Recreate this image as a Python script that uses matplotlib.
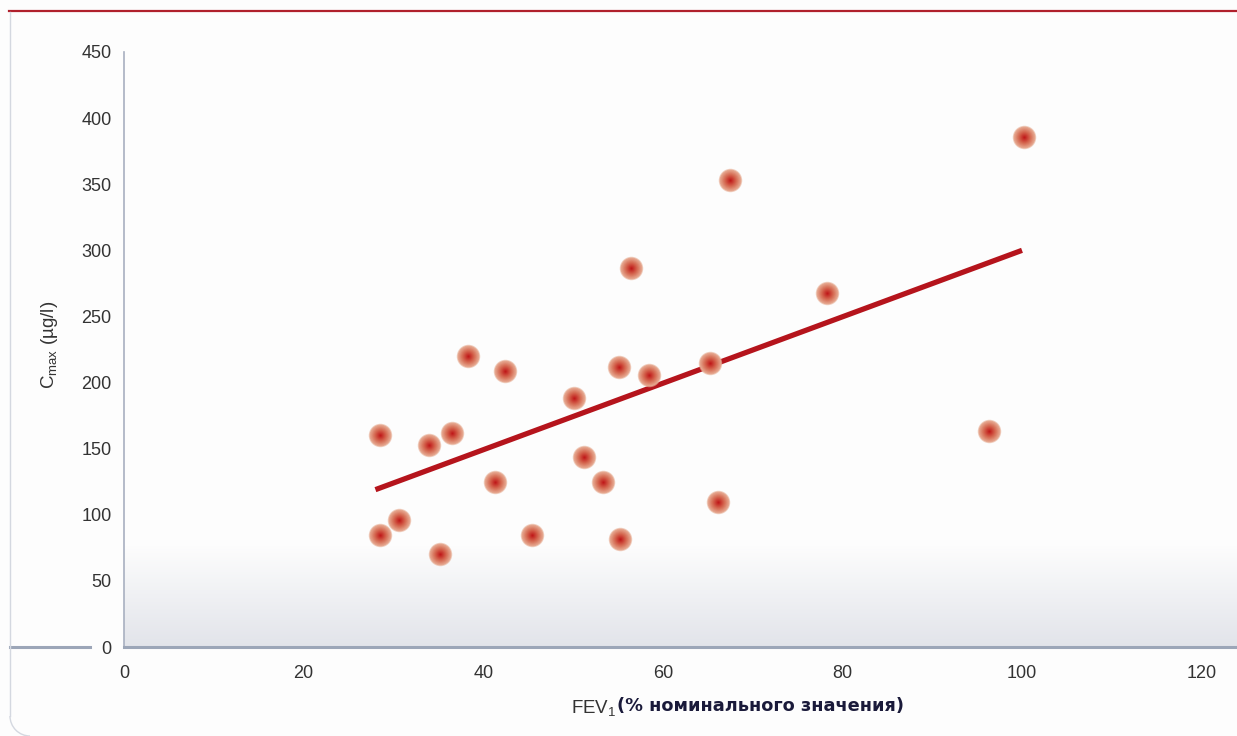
import numpy as np
import matplotlib.pyplot as plt
from matplotlib.lines import Line2D
from matplotlib.patches import Arc
from matplotlib.colors import to_rgb

plt.rcParams['font.family'] = ['Liberation Sans', 'DejaVu Sans']
plt.rcParams['mathtext.default'] = 'regular'

# data
fev1 = [28.5, 28.5, 30.6, 34.0, 35.2, 36.5, 38.3, 41.3, 42.4, 45.4, 50.1, 51.2,
        53.3, 55.1, 55.2, 56.5, 58.5, 65.3, 66.1, 67.5, 78.3, 96.3, 100.2]
cmax = [160, 85, 96, 153, 70, 162, 220, 125, 209, 85, 188, 144,
        125, 212, 82, 287, 206, 215, 110, 353, 268, 163, 386]
fit_x = [28, 100]
fit_y = [119, 300]
x_ticks = [0, 20, 40, 60, 80, 100, 120]
y_ticks = [0, 50, 100, 150, 200, 250, 300, 350, 400, 450]

W, H = 1237, 736
fig = plt.figure(figsize=(W / 100, H / 100), dpi=100)
fig.patch.set_facecolor('#fdfdfd')

ax_l, ax_b, ax_t = 124, 647, 52
ax = fig.add_axes([ax_l / W, (H - ax_b) / H, (W - ax_l) / W, (ax_b - ax_t) / H])
ax.set_facecolor('#fdfdfd')
xmax = (W - ax_l) / 8.98
ax.set_xlim(0, xmax)
ax.set_ylim(0, 450)

# grey gradient band at the bottom of the plot area
grad = np.linspace(0, 1, 100).reshape(-1, 1)
c_top = np.array(to_rgb('#fdfdfd'))
c_bot = np.array(to_rgb('#e2e4ea'))
img = c_bot + (c_top - c_bot) * grad[:, :, None]
ax.imshow(img, extent=[0, xmax, 0, 77], origin='lower', aspect='auto', zorder=0)

# regression line
ax.plot(fit_x, fit_y, color='#b5141c', lw=3.8, solid_capstyle='butt', zorder=2)

# soft radial markers, built from stacked discs
light = np.array(to_rgb('#e9b49c'))
mid = np.array(to_rgb('#d66a52'))
dark = np.array(to_rgb('#c01a1a'))
n = 14
for i in range(n):
    f = i / (n - 1)
    d = 23.5 - 22 * f          # diameter in px
    s = (d * 0.72) ** 2
    if f < 0.5:
        col = light + (mid - light) * (f / 0.5)
    else:
        col = mid + (dark - mid) * ((f - 0.5) / 0.5)
    a = 0.6 if i == 0 else 1.0
    ax.scatter(fev1, cmax, s=s, color=col, alpha=a, linewidths=0, zorder=3 + i * 0.01)

for side in ['top', 'right']:
    ax.spines[side].set_visible(False)
ax.spines['left'].set_color('#a8b0c0')
ax.spines['left'].set_linewidth(1.2)
ax.spines['bottom'].set_color('#9ca6b8')
ax.spines['bottom'].set_linewidth(2.2)

ax.set_xticks(x_ticks)
ax.set_yticks(y_ticks)
ax.tick_params(length=0, labelsize=13, labelcolor='#333333')
ax.tick_params(axis='x', pad=13)
ax.tick_params(axis='y', pad=9)

# left stub of the zero line
fig.add_artist(Line2D([10 / W, 90 / W], [(H - ax_b) / H] * 2, color='#9ca6b8', lw=2.2))

# frame: red top rule, grey left border with rounded corner
fig.add_artist(Line2D([9 / W, 1], [(H - 11) / H] * 2, color='#b0202c', lw=1.6))
fig.add_artist(Line2D([10 / W, 10 / W], [(H - 12) / H, (H - 716) / H], color='#d4d8e0', lw=1.0))
fig.add_artist(Arc((30 / W, (H - 716) / H), 40 / W, 40 / H, theta1=180, theta2=270,
                   transform=fig.transFigure, color='#d4d8e0', lw=1.0))

# axis labels
fig.text(50 / W, (H - 345) / H, 'C$_{max}$ (µg/l)', rotation=90, ha='center', va='center',
         fontsize=13.5, color='#333333')
fig.text(571 / W, (H - 708) / H, 'FEV$_1$', ha='left', va='center', fontsize=13.5, color='#333333')
fig.text(617 / W, (H - 706) / H, '(% номинального значения)', ha='left', va='center',
         fontsize=12.8, fontweight='bold', color='#1a1a3a', family='DejaVu Sans')

fig.savefig('out.png', dpi=100, facecolor=fig.get_facecolor())
